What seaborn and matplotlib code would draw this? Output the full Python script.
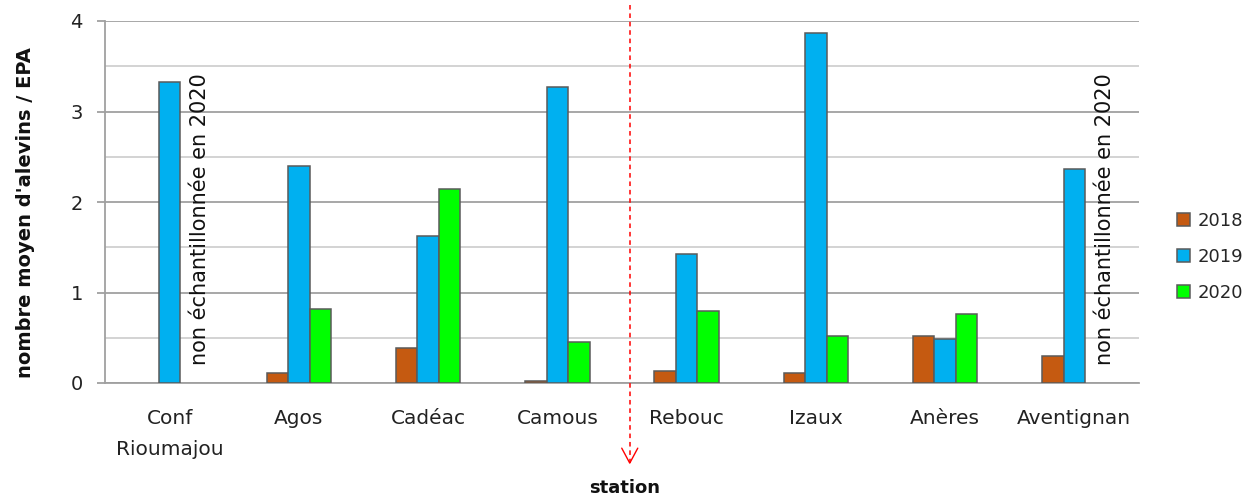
import numpy as np
import pandas as pd
import matplotlib
matplotlib.use("Agg")
import matplotlib.pyplot as plt
from matplotlib.ticker import MultipleLocator
from matplotlib.patches import Patch
import seaborn as sns

# ---- data ----
stations = ["Conf\nRioumajou", "Agos", "Cadéac", "Camous", "Rebouc", "Izaux", "Anères", "Aventignan"]
years = ["2018", "2019", "2020"]
v2018 = [np.nan, 0.11, 0.39, 0.02, 0.13, 0.11, 0.52, 0.30]
v2019 = [3.33, 2.40, 1.62, 3.27, 1.43, 3.87, 0.49, 2.37]
v2020 = [np.nan, 0.82, 2.14, 0.45, 0.80, 0.52, 0.76, np.nan]
not_sampled = ["Conf\nRioumajou", "Aventignan"]
note_text = "non échantillonnée en 2020"
colors = ["#C55A11", "#00B0F0", "#00FF00"]
divider_x = 3.56  # red dashed separator between Camous and Rebouc

df = pd.DataFrame({
    "station": stations * 3,
    "year": [y for y in years for _ in stations],
    "value": v2018 + v2019 + v2020,
})

sns.set_theme(style="white")
plt.rcParams["font.family"] = ["DejaVu Sans"]

fig = plt.figure(figsize=(12.58, 4.97), dpi=100)
ax = fig.add_axes([105/1258, 1-383/497, 1034/1258, 362/497])

sns.barplot(data=df, x="station", y="value", hue="year", order=stations,
            hue_order=years, palette=colors, saturation=1, width=0.5, ax=ax,
            edgecolor="#5a5a5a", linewidth=1.1, legend=False, zorder=3)

ax.set_xlim(-0.5, len(stations) - 0.5)
ax.set_ylim(0, 4)
ax.yaxis.set_major_locator(MultipleLocator(1))
ax.yaxis.set_minor_locator(MultipleLocator(0.5))
ax.grid(which="major", axis="y", color="#a0a0a0", linewidth=1.3, zorder=0)
ax.grid(which="minor", axis="y", color="#cccccc", linewidth=1.2, zorder=0)
ax.set_axisbelow(True)

for s in ["top", "right"]:
    ax.spines[s].set_visible(False)
for s in ["left", "bottom"]:
    ax.spines[s].set_color("#a0a0a0")
    ax.spines[s].set_linewidth(1.3)

ax.tick_params(axis="y", which="major", direction="out", length=6, width=1.3,
               color="#a0a0a0", left=True, pad=10, labelsize=14, labelcolor="#222222")
ax.tick_params(axis="y", which="minor", length=0)
ax.tick_params(axis="x", length=0, pad=19, labelsize=14.5, labelcolor="#222222")
for lab in ax.get_xticklabels():
    lab.set_linespacing(1.75)
    lab.set_va("top")

ax.set_ylabel("nombre moyen d'alevins / EPA", fontsize=14, fontweight="bold", color="#111111")
ax.yaxis.set_label_coords(-0.077, 0.47)
ax.yaxis.label.set_va("center")
ax.set_xlabel("station", fontsize=13, fontweight="bold", color="#111111")
ax.xaxis.set_label_coords(0.503, -0.29)
ax.xaxis.label.set_va("center")

for st in not_sampled:
    i = stations.index(st)
    ax.text(i + 0.235, 0.2, note_text, rotation=90, ha="center", va="bottom",
            fontsize=15, color="#111111", zorder=4)

# red dashed divider with open arrowhead
ax.plot([divider_x, divider_x], [4.18, -0.88], color="red", linestyle=(0, (3, 2.5)),
        linewidth=1.1, clip_on=False, zorder=5)
ax.plot([divider_x - 0.062, divider_x, divider_x + 0.062], [-0.72, -0.885, -0.72],
        color="red", linewidth=1.0, clip_on=False, zorder=5)

handles = [Patch(facecolor=c, edgecolor="#5a5a5a", linewidth=1.1) for c in colors]
fig.legend(handles, years, loc="center left", bbox_to_anchor=(1161/1258, 1-257/497),
           frameon=False, fontsize=13, handlelength=0.7, handleheight=0.7,
           handletextpad=0.45, labelspacing=1.0)

fig.savefig("out.png", dpi=100)
